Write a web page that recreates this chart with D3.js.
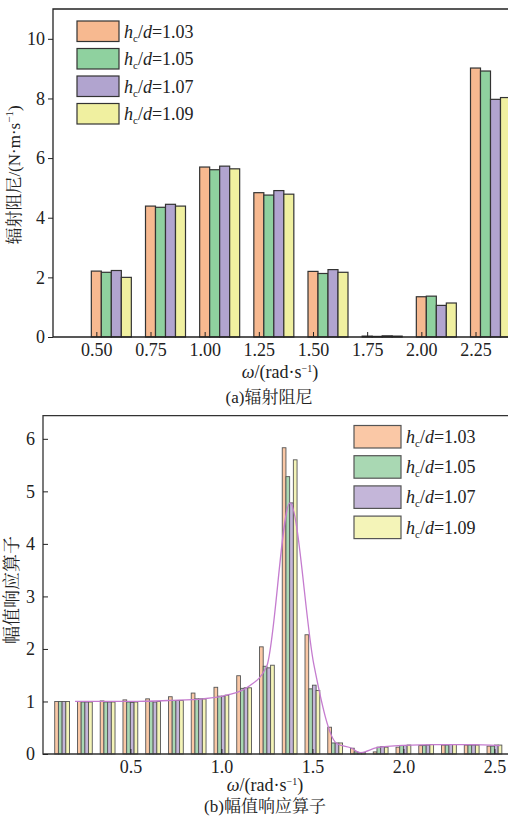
<!DOCTYPE html>
<html><head><meta charset="utf-8">
<script src="https://cdn.jsdelivr.net/npm/d3@7"></script>
<style>
body{margin:0;background:#fff;}
svg text{font-family:"Liberation Serif","Times New Roman",Tinos,"DejaVu Serif","Noto Serif CJK SC","Noto Sans CJK SC",serif !important;fill:#222;}
</style></head>
<body>
<svg id="c" width="508" height="825"></svg>
<script>
// ---------- data ----------
const seriesNames = ["1.03","1.05","1.07","1.09"];
const topColors = ["#f7b990","#8fd19f","#b1a4cf","#f0f0a0"];
const botColors = ["#fac8a6","#a9d8b3","#c4b6d9","#f4f4b8"];

// (a) radiation damping
const topCats = [0.50,0.75,1.00,1.25,1.50,1.75,2.00,2.25];
const topTickLabels = ["0.50","0.75","1.00","1.25","1.50","1.75","2.00","2.25"];
const damp103 = [2.21,4.39,5.70,4.84,2.20,0.03,1.35,9.02];
const damp105 = [2.17,4.35,5.61,4.76,2.13,0.02,1.37,8.92];
const damp107 = [2.23,4.45,5.73,4.91,2.26,0.04,1.06,7.97];
const damp109 = [2.00,4.39,5.64,4.79,2.17,0.03,1.14,8.03];
const topYTicks = [0,2,4,6,8,10];

// (b) RAO
const freqs = [0.125,0.25,0.375,0.5,0.625,0.75,0.875,1.0,1.125,1.25,1.375,1.5,1.625,1.75,1.875,2.0,2.125,2.25,2.375,2.5];
const rao103 = [1.00,1.00,1.01,1.03,1.05,1.09,1.16,1.27,1.49,2.04,5.83,2.27,0.51,0.11,0.04,0.13,0.16,0.17,0.17,0.15];
const rao105 = [1.00,0.99,0.99,0.99,1.00,1.02,1.05,1.10,1.25,1.67,5.28,1.24,0.21,0.04,0.13,0.16,0.16,0.17,0.17,0.15];
const rao107 = [1.00,0.99,0.99,0.98,0.99,1.02,1.05,1.10,1.26,1.64,4.78,1.31,0.21,0.03,0.14,0.16,0.17,0.18,0.17,0.17];
const rao109 = [1.00,0.99,0.99,0.99,1.00,1.02,1.05,1.12,1.26,1.69,5.60,1.21,0.21,0.03,0.13,0.17,0.18,0.18,0.17,0.17];
const lineW = [0.196,0.50,0.72,0.90,1.03,1.147,1.249,1.377,1.508,1.634,1.716,1.762,1.854,2.00,2.18,2.37,2.53];
const lineV = [1.00,1.00,1.02,1.05,1.12,1.28,1.67,4.78,1.70,0.20,0.11,0.025,0.12,0.165,0.18,0.18,0.16];
const botXTicks = [0.5,1.0,1.5,2.0,2.5];
const botYTicks = [0,1,2,3,4,5,6];

const svg = d3.select("#c");

function legendLabel(sel, val){
  sel.append("tspan").attr("font-style","italic").text("h");
  sel.append("tspan").attr("font-size","11px").attr("dy",4).text("c");
  sel.append("tspan").attr("dy",-4).text("/");
  sel.append("tspan").attr("font-style","italic").text("d");
  sel.append("tspan").text("=" + val);
}
function omegaLabel(sel){
  sel.append("tspan").attr("font-style","italic").text("ω");
  sel.append("tspan").text("/(rad·s");
  sel.append("tspan").attr("font-size","10px").attr("dy",-6).text("−1");
  sel.append("tspan").attr("dy",6).text(")");
}

// ---------- chart (a) ----------
{
  const L=53, T=9, B=337, R=508;
  const x = d3.scaleLinear().domain([0.3,2.4]).range([L,R]);
  const y = d3.scaleLinear().domain([0,11]).range([B,T]);
  const bw = 10;
  const series = [damp103,damp105,damp107,damp109];
  const g = svg.append("g");
  series.forEach((s,i)=>{
    g.selectAll(null).data(topCats).enter().append("rect")
      .attr("x",(d)=>x(d)-bw/2+i*bw)
      .attr("y",(d,j)=>y(s[j]))
      .attr("width",bw)
      .attr("height",(d,j)=>y(0)-y(s[j]))
      .attr("fill",topColors[i]).attr("stroke","#333").attr("stroke-width",1.2);
  });
  g.append("path").attr("d",`M${R+5},${T}H${L}V${B}H${R+5}`).attr("fill","none").attr("stroke","#222").attr("stroke-width",1.3);
  const xa = g.append("g").attr("transform",`translate(0,${B})`)
    .call(d3.axisBottom(x).tickValues(topCats).tickFormat((d,i)=>topTickLabels[i]).tickSize(-5).tickPadding(6));
  xa.select(".domain").remove();
  xa.selectAll("line").attr("stroke","#222");
  xa.selectAll("text").attr("font-size","18px");
  const ya = g.append("g").attr("transform",`translate(${L},0)`)
    .call(d3.axisLeft(y).tickValues(topYTicks).tickSize(5).tickPadding(3));
  ya.select(".domain").remove();
  ya.selectAll("line").attr("stroke","#222");
  ya.selectAll("text").attr("font-size","18px");
  seriesNames.forEach((n,i)=>{
    const yy = 21 + i*27.5;
    g.append("rect").attr("x",77).attr("y",yy).attr("width",42).attr("height",20.5)
      .attr("fill",topColors[i]).attr("stroke","#333").attr("stroke-width",1.2);
    legendLabel(g.append("text").attr("x",124).attr("y",yy+16.5).attr("font-size","18px"), n);
  });
  omegaLabel(svg.append("text").attr("x",280).attr("y",378).attr("text-anchor","middle").attr("font-size","18px"));
  svg.append("text").attr("x",269).attr("y",403).attr("text-anchor","middle").attr("font-size","17px").text("(a)辐射阻尼");
  const yl = svg.append("text").attr("transform","translate(20,175) rotate(-90)").attr("text-anchor","middle").attr("font-size","17px");
  yl.append("tspan").text("辐射阻尼/(N·m·s");
  yl.append("tspan").attr("font-size","11px").attr("dy",-7).text("−1");
  yl.append("tspan").attr("dy",7).text(")");
}

// ---------- chart (b) ----------
{
  const L=43, T=415.7, B=754, R=509;
  const x = d3.scaleLinear().domain([0.02,2.58]).range([L,R]);
  const y = d3.scaleLinear().domain([0,6.44]).range([B,T]);
  const bw = 3.7;
  const series = [rao103,rao105,rao107,rao109];
  const g = svg.append("g");
  series.forEach((s,i)=>{
    g.selectAll(null).data(freqs).enter().append("rect")
      .attr("x",(d)=>x(d)-2*bw+i*bw)
      .attr("y",(d,j)=>y(s[j]))
      .attr("width",bw)
      .attr("height",(d,j)=>y(0)-y(s[j]))
      .attr("fill",botColors[i]).attr("stroke","#555").attr("stroke-width",0.9);
  });
  const line = d3.line().x((d,i)=>x(lineW[i])).y((d,i)=>y(lineV[i])).curve(d3.curveMonotoneX);
  g.append("path").datum(lineV).attr("d",line).attr("fill","none").attr("stroke","#c57ccf").attr("stroke-width",1.3);
  g.append("path").attr("d",`M${R+5},${T}H${L}V${B}H${R+5}`).attr("fill","none").attr("stroke","#333").attr("stroke-width",1.3);
  const xa = g.append("g").attr("transform",`translate(0,${B})`)
    .call(d3.axisBottom(x).tickValues(botXTicks).tickFormat(d3.format(".1f")).tickSize(-5).tickPadding(6));
  xa.select(".domain").remove();
  xa.selectAll("line").attr("stroke","#222");
  xa.selectAll("text").attr("font-size","18px");
  const ya = g.append("g").attr("transform",`translate(${L},0)`)
    .call(d3.axisLeft(y).tickValues(botYTicks).tickFormat(d3.format("d")).tickSize(-5).tickPadding(8));
  ya.select(".domain").remove();
  ya.selectAll("line").attr("stroke","#222");
  ya.selectAll("text").attr("font-size","18px");
  seriesNames.forEach((n,i)=>{
    const yy = 425.5 + i*30.2;
    g.append("rect").attr("x",354).attr("y",yy).attr("width",47).attr("height",22.5)
      .attr("fill",botColors[i]).attr("stroke","#555").attr("stroke-width",1.2);
    legendLabel(g.append("text").attr("x",406).attr("y",yy+17.5).attr("font-size","18px"), n);
  });
  omegaLabel(svg.append("text").attr("x",265).attr("y",791).attr("text-anchor","middle").attr("font-size","18px"));
  svg.append("text").attr("x",265).attr("y",812).attr("text-anchor","middle").attr("font-size","17px").text("(b)幅值响应算子");
  svg.append("text").attr("transform","translate(18,590) rotate(-90)").attr("text-anchor","middle").attr("font-size","18px").text("幅值响应算子");
}
</script>
</body></html>
